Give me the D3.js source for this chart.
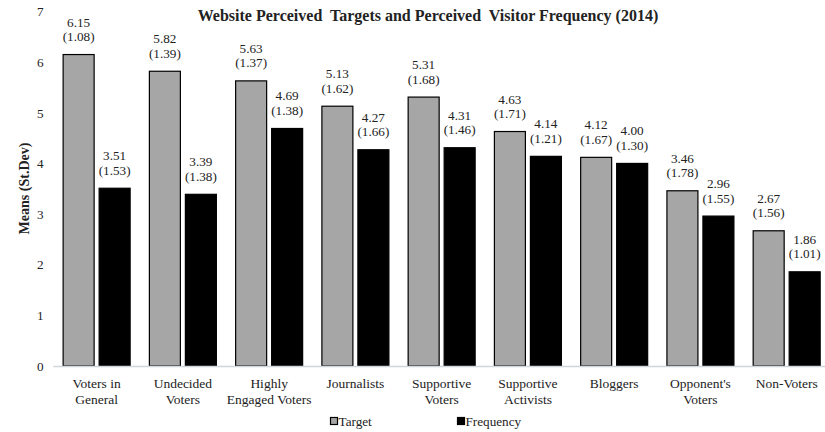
<!DOCTYPE html>
<html><head><meta charset="utf-8">
<script src="https://cdn.jsdelivr.net/npm/d3@7"></script>
<style>body{margin:0;background:#fff}text{font-family:"Liberation Serif","Times New Roman",serif;fill:#222}</style>
</head><body><svg id="c" width="825" height="432"></svg>
<script>
const categories = ["Voters in|General","Undecided|Voters","Highly|Engaged Voters","Journalists","Supportive|Voters","Supportive|Activists","Bloggers","Opponent's|Voters","Non-Voters"];
const targetMeans = [6.15,5.82,5.63,5.13,5.31,4.63,4.12,3.46,2.67];
const targetSD = [1.08,1.39,1.37,1.62,1.68,1.71,1.67,1.78,1.56];
const freqMeans = [3.51,3.39,4.69,4.27,4.31,4.14,4.00,2.96,1.86];
const freqSD = [1.53,1.38,1.38,1.66,1.46,1.21,1.30,1.55,1.01];
const yTicks = [0,1,2,3,4,5,6,7];
const seriesNames = ["Target","Frequency"];

const svg = d3.select("#c");
const pLeft = 53.5, pRight = 829.8, pTop = 11.5, pBottom = 366;
const x = d3.scaleBand().domain(categories).range([pLeft,pRight]).paddingInner(0).paddingOuter(0);
const y = d3.scaleLinear().domain([0,7]).range([pBottom,pTop]);
const colors = ["#a6a6a6","#000000"];
const bw = 31, gap = 5;
const fs = "13.2px";

// title
svg.append("text").attr("x",428).attr("y",21).attr("text-anchor","middle")
  .style("font-weight","bold").style("font-size","16px").style("white-space","pre")
  .text("Website Perceived  Targets and Perceived  Visitor Frequency (2014)");

// y axis labels
const ya = svg.append("g").attr("transform",`translate(${pLeft-10},0)`)
  .call(d3.axisLeft(y).tickValues(yTicks).tickSize(0).tickPadding(0).tickFormat(d3.format("d")));
ya.select(".domain").remove();
ya.selectAll("text").style("font-family","'Liberation Serif',serif").style("font-size",fs).attr("fill","#222");

svg.append("text").attr("transform","translate(28.5,188.5) rotate(-90)").attr("text-anchor","middle")
  .style("font-weight","bold").style("font-size","14px").text("Means (St.Dev)");

const data = categories.map((c,i)=>({c, vals:[[targetMeans[i],targetSD[i]],[freqMeans[i],freqSD[i]]]}));
const g = svg.append("g");
data.forEach(d=>{
  const cx = x(d.c) + x.bandwidth()/2;
  d.vals.forEach((v,j)=>{
    const x0 = j===0 ? cx - gap/2 - bw : cx + gap/2;
    g.append("rect").attr("x",x0).attr("y",y(v[0])).attr("width",bw).attr("height",y(0)-y(v[0]))
      .attr("fill",colors[j]).attr("stroke","#000").attr("stroke-width",1.2);
    const lx = x0 + bw/2;
    g.append("text").attr("x",lx).attr("y",y(v[0])-28).attr("text-anchor","middle").style("font-size",fs).text(v[0].toFixed(2));
    g.append("text").attr("x",lx).attr("y",y(v[0])-13.5).attr("text-anchor","middle").style("font-size",fs).text("("+v[1].toFixed(2)+")");
  });
});

// x axis line
svg.append("line").attr("x1",pLeft).attr("x2",pRight).attr("y1",pBottom+0.5).attr("y2",pBottom+0.5)
  .attr("stroke","#d0d4dc").attr("stroke-width",1.3);

// category labels
categories.forEach(c=>{
  const cx = x(c)+x.bandwidth()/2;
  const t = svg.append("text").attr("x",cx).attr("y",387.5).attr("text-anchor","middle").style("font-size","13.5px");
  c.split("|").forEach((line,k)=>{
    t.append("tspan").attr("x",cx).attr("dy",k===0?0:16).text(line);
  });
});

// legend
const legX = [330,457];
seriesNames.forEach((n,j)=>{
  svg.append("rect").attr("x",legX[j]+0.5).attr("y",417.5).attr("width",7).attr("height",7)
    .attr("fill",colors[j]).attr("stroke","#000").attr("stroke-width",1.2);
  svg.append("text").attr("x",legX[j]+8.5).attr("y",426).style("font-size",fs).text(n);
});
</script></body></html>
